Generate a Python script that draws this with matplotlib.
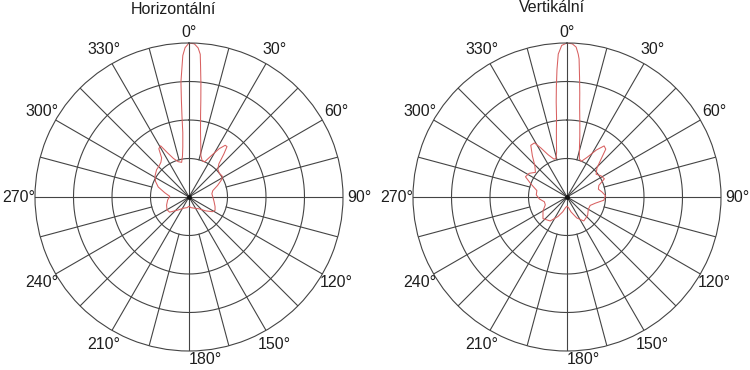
import numpy as np
import matplotlib.pyplot as plt

plt.rcParams['font.family'] = ['Liberation Sans', 'DejaVu Sans']

titles = ["Horizontální", "Vertikální"]
label_angles = [0, 30, 60, 90, 120, 150, 180, 210, 240, 270, 300, 330]
label_texts = [f"{a}°" for a in label_angles]

# horizontal pattern (degrees clockwise from top, normalised radius)
h_theta = [0, 2, 3.5, 4.5, 5, 6, 7, 8, 10, 13, 16, 20, 24, 28, 32, 35, 37, 39,
           42, 46, 52, 58, 62, 68, 75, 82, 90, 100, 110, 117, 122, 130, 140,
           155, 170, 180, 190, 205, 220, 232, 240, 250, 262, 272, 280, 288,
           295, 302, 310, 316, 321, 325, 328, 331, 334, 338, 343, 348, 351,
           353, 354.5, 355, 355.5, 356, 357.5, 358.5]
h_r = [1.0, 0.995, 0.97, 0.93, 0.86, 0.74, 0.63, 0.54, 0.43, 0.34, 0.28, 0.25,
       0.25, 0.30, 0.37, 0.41, 0.41, 0.36, 0.29, 0.26, 0.25, 0.255, 0.24,
       0.20, 0.16, 0.15, 0.155, 0.165, 0.18, 0.19, 0.18, 0.14, 0.10, 0.08,
       0.07, 0.06, 0.07, 0.08, 0.11, 0.16, 0.165, 0.155, 0.14, 0.125, 0.16,
       0.21, 0.24, 0.26, 0.275, 0.28, 0.29, 0.31, 0.37, 0.38, 0.32, 0.27,
       0.24, 0.23, 0.27, 0.33, 0.42, 0.52, 0.63, 0.75, 0.92, 0.97]

# vertical pattern
v_theta = [0, 2, 3.5, 4.5, 5, 6, 7, 8, 10, 12, 15, 18, 22, 27, 32, 36, 39, 42,
           46, 52, 58, 64, 70, 76, 82, 88, 95, 102, 110, 120, 132, 145, 155,
           165, 172, 180, 188, 196, 205, 215, 228, 240, 250, 258, 266, 274,
           282, 290, 296, 302, 308, 314, 320, 325, 329, 332, 336, 341, 344,
           347, 349, 351, 352.5, 353.5, 354.5, 355.5, 356.5, 358]
v_r = [1.0, 0.995, 0.975, 0.93, 0.90, 0.78, 0.68, 0.59, 0.48, 0.40, 0.31,
       0.26, 0.25, 0.29, 0.36, 0.41, 0.40, 0.33, 0.27, 0.24, 0.26, 0.27, 0.22,
       0.21, 0.23, 0.25, 0.24, 0.19, 0.16, 0.16, 0.18, 0.19, 0.15, 0.10, 0.07,
       0.06, 0.07, 0.10, 0.14, 0.19, 0.21, 0.18, 0.15, 0.15, 0.18, 0.20, 0.20,
       0.25, 0.30, 0.29, 0.26, 0.29, 0.35, 0.41, 0.41, 0.36, 0.30, 0.26, 0.26,
       0.30, 0.36, 0.44, 0.52, 0.62, 0.72, 0.83, 0.93, 0.985]

ring_radii = [0.25, 0.5, 0.75]
spoke_angles = np.arange(0, 360, 15)

grid_col = "#444444"
curve_col = "#d86060"
text_col = "#1e1e1e"

fig = plt.figure(figsize=(7.5, 3.7), dpi=100)
boxes = [[35 / 750, 19 / 370, 308 / 750, 308 / 370],
         [413 / 750, 19 / 370, 308 / 750, 308 / 370]]
title_pos = [(173 / 750, 1 - 9 / 370), (552 / 750, 1 - 8 / 370)]
patterns = [(h_theta, h_r), (v_theta, v_r)]

for box, title, tpos, (th, rr) in zip(boxes, titles, title_pos, patterns):
    ax = fig.add_axes(box, projection='polar')
    ax.set_theta_zero_location('N')
    ax.set_theta_direction(-1)
    ax.set_rlim(0, 1)
    ax.grid(False)
    ax.set_yticks([])
    ax.set_xticks([])
    ax.spines['polar'].set_color(grid_col)
    ax.spines['polar'].set_linewidth(0.8)

    # rings
    circ = np.linspace(0, 2 * np.pi, 361)
    for rad in ring_radii:
        ax.plot(circ, np.full_like(circ, rad), color=grid_col, lw=0.8)

    # spokes: 30 and 45 degree multiples reach the centre
    for a in spoke_angles:
        r0 = 0 if (a % 30 == 0 or a % 45 == 0) else ring_radii[0]
        ax.plot([np.deg2rad(a)] * 2, [r0, 1], color=grid_col, lw=0.8)

    ax.plot([0], [0], marker='o', ms=2.5, color="#111111")

    t = np.deg2rad(np.append(th, th[0]))
    r = np.append(rr, rr[0])
    ax.plot(t, r, color=curve_col, lw=0.75)

    # angle labels around the rim
    for a, s in zip(label_angles, label_texts):
        if a == 0:
            ax.text(0, 1.07, s, ha='center', va='center', fontsize=11.5,
                    color=text_col, clip_on=False)
        elif a == 180:
            ax.text(np.pi, 1.055, s, ha='left', va='center', fontsize=11.5,
                    color=text_col, clip_on=False)
        else:
            ax.text(np.deg2rad(a), 1.105, s, ha='center', va='center',
                    fontsize=11.5, color=text_col, clip_on=False)

    fig.text(tpos[0], tpos[1], title, ha='center', va='center',
             fontsize=11.5, color=text_col)

fig.savefig("out.png", dpi=100, facecolor="white")
